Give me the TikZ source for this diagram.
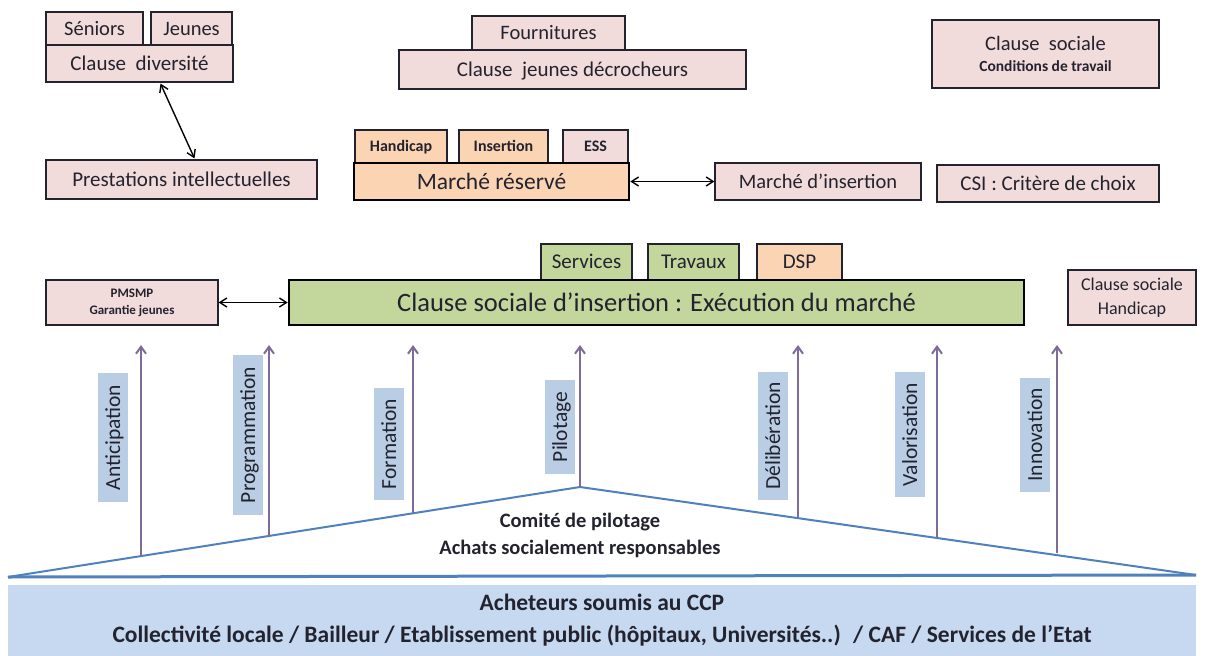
\documentclass[tikz,border=0pt]{standalone}
\usepackage{fontspec}
\setmainfont{Carlito}
\usetikzlibrary{arrows.meta}
\usetikzlibrary{calc}

\definecolor{rose}{HTML}{F2DCDB}
\definecolor{peche}{HTML}{FBD4B4}
\definecolor{olive}{HTML}{C3D69B}
\definecolor{ciel}{HTML}{B9CDE5}
\definecolor{bande}{HTML}{C6D9F1}
\definecolor{violet}{HTML}{7F6A9A}
\definecolor{trait}{HTML}{4F81BD}
\definecolor{encre}{HTML}{23232F}

\newcommand{\fs}[1]{\fontsize{#1}{#1}\selectfont}
\newcommand{\cale}{\vphantom{Ég}}

\tikzset{
  boite/.style={draw=encre,line width=1.2pt,fill=rose,inner sep=0pt,text=encre},
  ligne/.style={boite,execute at begin node=\cale},
  epaisse/.style={ligne,line width=2.6pt,draw=black},
  fleche/.style={{Straight Barb[length=7pt,width=9pt]}-{Straight Barb[length=7pt,width=9pt]},line width=1.4pt},
  monte/.style={-{Straight Barb[length=7pt,width=10pt]},line width=2pt,violet},
  etiquette/.style={fill=ciel,rotate=90,minimum height=30pt,inner sep=0pt,text=encre,
    execute at begin node=\cale,font=\fs{21.5}}
}

\begin{document}
\begin{tikzpicture}[x=1pt,y=-1pt]
\useasboundingbox (0,0) rectangle (1208,656);

% haut gauche
\node[ligne,minimum width=97pt,minimum height=33pt,font=\fs{20.5}] (seniors) at (94.5,28.5) {Séniors};
\node[ligne,minimum width=81pt,minimum height=33pt,font=\fs{20.5}] (jeunes) at (191.5,28.5) {Jeunes};
\node[ligne,minimum width=187pt,minimum height=37pt,font=\fs{21}] (diversite) at (139.5,63.5) {Clause~ diversité};
\node[ligne,minimum width=271pt,minimum height=39pt,font=\fs{21}] (prestations) at (181.5,179.5) {Prestations intellectuelles};
\draw[fleche] ($(diversite.south)+(21,1)$) -- ($(prestations.north)+(13,-1)$);

% haut milieu
\node[ligne,minimum width=153pt,minimum height=34pt,font=\fs{20.5}] (fournitures) at (548.5,33) {Fournitures};
\node[ligne,minimum width=347pt,minimum height=39pt,font=\fs{21}] (decrocheurs) at (572.5,69.5) {Clause~ jeunes décrocheurs};

% haut droite
\node[boite,minimum width=227pt,minimum height=68pt,align=center] (conditions) at (1045.5,54)
  {{\fs{20.5}Clause~ sociale}\\[9pt]{\fs{15.5}\bfseries Conditions de travail}};

% marche reserve
\node[ligne,fill=peche,minimum width=92pt,minimum height=33pt,font=\fs{16}\bfseries] (handicap) at (401,146.5) {Handicap};
\node[ligne,fill=peche,minimum width=89pt,minimum height=33pt,font=\fs{16}\bfseries] (insertion) at (503.5,146.5) {Insertion};
\node[ligne,minimum width=65pt,minimum height=33pt,font=\fs{16}\bfseries] (ess) at (595.5,146.5) {ESS};
\node[epaisse,fill=peche,minimum width=275pt,minimum height=37pt,font=\fs{23.5}] (reserve) at (491.5,181.5) {Marché réservé};
\node[ligne,minimum width=206pt,minimum height=37pt,font=\fs{20.5}] (minsertion) at (818,181.5) {Marché d’insertion};
\node[ligne,minimum width=222pt,minimum height=37pt,font=\fs{21}] (csi) at (1048,183.5) {CSI : Critère de choix};
\draw[fleche] (reserve.east) -- (minsertion.west);

% clause sociale d'insertion
\node[ligne,fill=olive,minimum width=91pt,minimum height=36pt,font=\fs{21}] (services) at (586.5,262) {Services};
\node[ligne,fill=olive,minimum width=91pt,minimum height=36pt,font=\fs{21}] (travaux) at (693.5,262) {Travaux};
\node[ligne,fill=peche,minimum width=85pt,minimum height=36pt,font=\fs{21}] (dsp) at (799.5,262) {DSP};
\node[epaisse,fill=olive,minimum width=735pt,minimum height=45pt,font=\fs{26.5}] (execution) at (656.5,302.5) {Clause sociale d’insertion : Exécution du marché};
\node[boite,minimum width=172pt,minimum height=45pt,align=center,font=\fs{13}\bfseries] (pmsmp) at (132,302.5) {PMSMP\\[4pt]Garantie jeunes};
\node[boite,minimum width=128pt,minimum height=55pt,align=center,font=\fs{18}] (handicapcs) at (1132,297.5) {Clause sociale\\[6pt]Handicap};
\draw[fleche] (pmsmp.east) -- (execution.west);

% socle
\coordinate (gauche) at (8,577);
\coordinate (sommet) at (580,487);
\coordinate (droite) at (1196,575);
\draw[trait,line width=2pt,line join=round] (gauche) -- (sommet) -- (droite);
\draw[trait,line width=3pt] (gauche) -- (droite);
\node[align=center,font=\fs{20.5}\bfseries,text=encre] (comite) at (580,535.5) {Comité de pilotage\\[6.5pt]Achats socialement responsables};

\foreach \nom/\ax/\ab in {
  anticipation/141/556,
  programmation/269/536,
  formation/413/513,
  pilotage/580/487,
  deliberation/798/518,
  valorisation/937/538,
  innovation/1057/553}{
  \coordinate (bas-\nom) at (\ax,\ab);
  \coordinate (haut-\nom) at (\ax,345);
  \draw[monte] (bas-\nom) -- (haut-\nom);
}
\node[etiquette,minimum width=129pt] (anticipation) at (113,437.5) {Anticipation};
\node[etiquette,minimum width=160pt] (programmation) at (248,435) {Programmation};
\node[etiquette,minimum width=112pt] (formation) at (389,444) {Formation};
\node[etiquette,minimum width=94pt] (pilotage) at (560,427) {Pilotage};
\node[etiquette,minimum width=128pt] (deliberation) at (773,436) {Délibération};
\node[etiquette,minimum width=125pt] (valorisation) at (910,434.5) {Valorisation};
\node[etiquette,minimum width=114pt] (innovation) at (1035,435) {Innovation};

% acheteurs
\node[fill=bande,minimum width=1188pt,minimum height=71pt,inner sep=0pt,align=center,font=\fs{23.5}\bfseries,text=encre] (acheteurs) at (602,620.5)
  {Acheteurs soumis au CCP\\[8.5pt]Collectivité locale / Bailleur / Etablissement public (hôpitaux, Universités..)~ / CAF / Services de l’Etat};
\end{tikzpicture}
\end{document}
